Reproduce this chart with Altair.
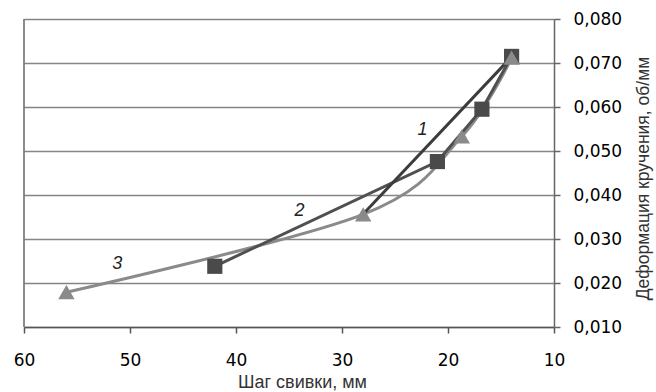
import altair as alt
import pandas as pd

# Series 1: straight line, no markers
pitch_1 = [28, 14]
def_1 = [0.0357, 0.0714]
# Series 2: squares, straight segments
pitch_2 = [42, 21, 16.8, 14]
def_2 = [0.0238, 0.0476, 0.0595, 0.0715]
# Series 3: triangles, smoothed line
pitch_3 = [56, 28, 18.7, 14]
def_3 = [0.0179, 0.0356, 0.0533, 0.0712]

x_ticks = [60, 50, 40, 30, 20, 10]
y_ticks = [0.01, 0.02, 0.03, 0.04, 0.05, 0.06, 0.07, 0.08]

label_text = ["1", "2", "3"]
label_x = [22.4, 34.0, 51.2]
label_y = [0.0548, 0.0363, 0.0243]

df1 = pd.DataFrame({"x": pitch_1, "y": def_1})
df2 = pd.DataFrame({"x": pitch_2, "y": def_2})
df3 = pd.DataFrame({"x": pitch_3, "y": def_3})
dfl = pd.DataFrame({"t": label_text, "x": label_x, "y": label_y})
dfb = pd.DataFrame({"x": [60]})

LABEL_FONT = "DejaVu Sans"
TITLE_FONT = "Liberation Sans"

xscale = alt.Scale(domain=[10, 60], reverse=True, nice=False, zero=False)
yscale = alt.Scale(domain=[0.01, 0.08], nice=False, zero=False)

xaxis = alt.Axis(
    values=x_ticks, title="Шаг свивки, мм", grid=False,
    domainColor="#555555", domainWidth=1.5, tickColor="#555555", tickWidth=1.5,
    tickSize=6, labelPadding=19, labelFont=LABEL_FONT, labelFontSize=17,
    labelColor="#000000", labelFlush=False,
    titleFont=TITLE_FONT, titleFontSize=18, titleFontWeight="normal",
    titleColor="#333333", titleX=278, titleY=60, titleAlign="center",
    titleBaseline="alphabetic",
)
yaxis = alt.Axis(
    values=y_ticks, orient="right", title="Деформация кручения, об/мм",
    labelExpr="replace(format(datum.value, '.3f'), '.', ',')",
    grid=True, gridColor="#858585", gridWidth=1.4,
    domainColor="#666666", domainWidth=1.5, tickColor="#666666", tickWidth=1.5,
    tickSize=6, labelPadding=13, labelFont=LABEL_FONT, labelFontSize=17,
    labelColor="#000000", labelFlush=False, labelAlign="left",
    titleFont=TITLE_FONT, titleFontSize=17.5, titleFontWeight="normal",
    titleColor="#333333", titleAngle=270, titleX=94, titleY=159,
    titleAlign="center", titleBaseline="alphabetic",
)

base_x = alt.X("x:Q", scale=xscale, axis=xaxis)
base_y = alt.Y("y:Q", scale=yscale, axis=yaxis)

border = alt.Chart(dfb).mark_rule(color="#666666", strokeWidth=1.5).encode(
    x=alt.X("x:Q", scale=xscale)
)

line3 = alt.Chart(df3).mark_line(
    color="#8a8a8a", strokeWidth=3, interpolate="cardinal", tension=0
).encode(x=base_x, y=base_y)
pts3 = alt.Chart(df3).mark_point(
    shape="triangle-up", filled=True, color="#8a8a8a", size=270, opacity=1
).encode(x="x:Q", y="y:Q")

line2 = alt.Chart(df2).mark_line(color="#505050", strokeWidth=3).encode(
    x="x:Q", y="y:Q"
)
pts2 = alt.Chart(df2).mark_point(
    shape="square", filled=True, color="#4a4a4a", size=230, opacity=1
).encode(x="x:Q", y="y:Q")

line1 = alt.Chart(df1).mark_line(color="#3c3c3c", strokeWidth=3).encode(
    x="x:Q", y="y:Q"
)

labels = alt.Chart(dfl).mark_text(
    font=TITLE_FONT, fontSize=18, fontStyle="italic", color="#222222",
    baseline="middle", align="center"
).encode(x="x:Q", y="y:Q", text="t:N")

chart = alt.layer(
    border, line3, line2, line1, pts2, pts3, labels
).properties(
    width=530, height=308,
    padding={"left": 24, "top": 19, "right": 102, "bottom": 65},
    autosize=alt.AutoSizeParams(type="none"),
    background="white",
).configure_view(stroke=None)

chart.save("out.html", embed_options={"renderer": "svg", "actions": False})
